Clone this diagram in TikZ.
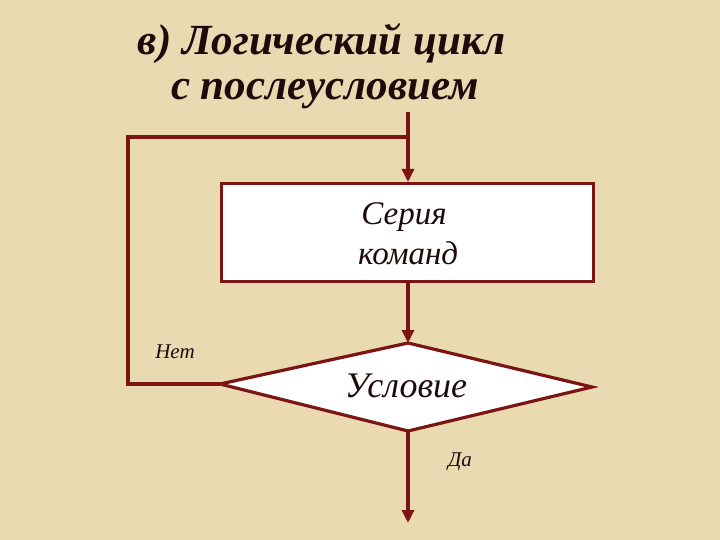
\documentclass[tikz,border=0pt]{standalone}
\usepackage{fontspec}
\setmainfont{Liberation Serif}
\usetikzlibrary{arrows.meta}
\definecolor{bg}{RGB}{234,218,178}
\definecolor{maroon}{RGB}{125,20,20}
\definecolor{ink}{RGB}{30,10,10}
\tikzset{ln/.style={draw=maroon,line width=3.2pt},
 arr/.style={ln,-{Triangle[length=13pt,width=12pt]}},
 lbl/.style={font=\itshape,text=ink}}
\begin{document}
\begin{tikzpicture}[x=1pt,y=-1pt]
\fill[bg] (0,0) rectangle (720,540);
\useasboundingbox (0,0) rectangle (720,540);
\node[font=\bfseries\itshape\fontsize{43}{48}\selectfont,text=ink] (t1) at (322,44) {в) Логический цикл};
\node[font=\bfseries\itshape\fontsize{43}{48}\selectfont,text=ink] (t2) at (325,94) {с послеусловием};
\node[ln,fill=white,minimum width=372pt,minimum height=98pt,anchor=north west] (box) at (220,182) {};
\node[lbl,font=\itshape\fontsize{33}{40}\selectfont,align=center] at (404,234) {Серия\\ \ команд};
\coordinate (dl) at (220,384);
\coordinate (dt) at (408,343);
\coordinate (dr) at (592,387);
\coordinate (db) at (408,431);
\filldraw[ln,fill=white] (dl) -- (dt) -- (dr) -- (db) -- cycle;
\node[lbl,font=\itshape\fontsize{36}{40}\selectfont] (cond) at (406,386) {Условие};
\coordinate (top) at (408,112);
\coordinate (j) at (408,137);
\draw[arr] (top) -- (box.north -| top);
\draw[ln] (dl) -- (128,384) -- (128,137) -- (j);
\draw[arr] (box.south -| dt) -- (dt);
\coordinate (end) at (408,523);
\draw[arr] (db) -- (end);
\node[lbl,font=\itshape\fontsize{21}{24}\selectfont] (no) at (175,352) {Нет};
\node[lbl,font=\itshape\fontsize{21}{24}\selectfont] (yes) at (460,462) {Да};
\end{tikzpicture}
\end{document}
